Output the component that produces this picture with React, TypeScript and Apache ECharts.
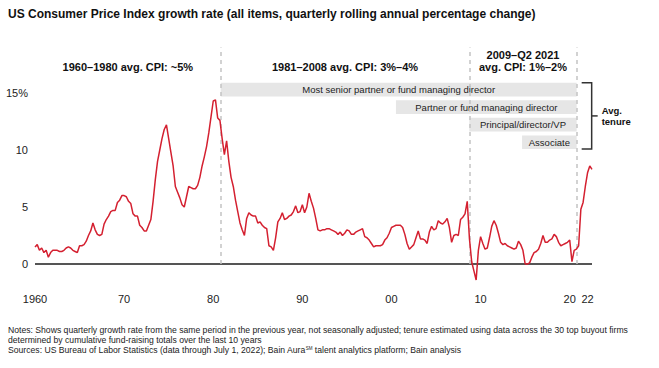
import React, { useEffect, useRef } from 'react';
import * as echarts from 'echarts';

const FONT = "'Liberation Sans', Arial, Helvetica, sans-serif";

const titleText =
  'US Consumer Price Index growth rate (all items, quarterly rolling annual percentage change)';

// Quarterly CPI growth, starting 1960 Q1
const startYear = 1960;
const cpi: number[] = [
  1.5, 1.7, 1.2, 1.4, // 1960
  1.0, 1.2, 0.6, 1.0,
  1.2, 1.2, 1.2, 1.1,
  1.1, 1.2, 1.4, 1.5,
  1.4, 1.2, 1.1, 1.0,
  1.6, 1.6, 1.7, 2.0, // 1965
  2.5, 2.9, 3.6, 3.0,
  2.6, 2.5, 2.6, 3.5,
  3.9, 4.2, 4.6, 4.7,
  4.7, 5.4, 5.6, 6.0,
  6.0, 5.9, 5.5, 5.3, // 1970
  4.4, 4.2, 4.2, 3.4,
  3.2, 2.9, 2.9, 3.4,
  3.9, 5.5, 7.4, 9.0,
  10.0, 11.0, 11.8, 12.2,
  11.0, 9.8, 8.6, 6.8, // 1975
  6.3, 5.8, 5.2, 5.0,
  5.9, 6.8, 6.7, 6.6,
  6.6, 6.9, 7.6, 8.6,
  9.4, 10.3, 11.5, 12.9,
  14.3, 14.4, 12.8, 12.6, // 1980
  11.0, 9.6, 10.8, 9.0,
  7.6, 6.8, 5.6, 4.6,
  3.6, 3.0, 2.5, 4.0,
  4.5, 4.3, 4.2, 4.2,
  3.6, 3.7, 3.4, 3.2, // 1985
  3.1, 1.6, 1.5, 1.2,
  2.3, 3.7, 4.0, 4.5,
  3.9, 4.0, 4.2, 4.3,
  4.6, 5.1, 4.5, 4.6,
  5.2, 4.5, 5.0, 6.2, // 1990
  5.5, 4.9, 4.0, 3.0,
  2.9, 3.0, 3.0, 3.1,
  3.1, 3.0, 2.9, 2.8,
  2.6, 2.8, 2.5, 2.7,
  3.0, 2.9, 2.6, 2.6, // 1995
  2.8, 2.9, 3.0, 3.1,
  2.4, 2.3, 2.1, 1.8,
  1.5, 1.6, 1.6, 1.6,
  1.7, 2.1, 2.3, 2.7,
  3.2, 3.3, 3.4, 3.4, // 2000
  3.4, 3.2, 2.6, 1.8,
  1.3, 1.5, 1.7, 2.3,
  2.9, 2.2, 2.2, 2.1,
  1.8, 2.8, 3.3, 3.0,
  3.1, 3.8, 3.6, 3.5, // 2005
  3.7, 4.0, 3.2, 1.9,
  2.5, 2.6, 2.5, 3.9,
  4.1, 4.4, 5.5, 2.2,
  0.2, -0.6, -1.4, 1.2,
  2.4, 1.8, 1.3, 1.4, // 2010
  2.3, 3.3, 3.8, 3.4,
  2.7, 1.9, 1.7, 1.8,
  1.6, 1.5, 1.4, 1.3,
  1.4, 2.0, 1.7, 1.2,
  0.0, 0.0, 0.1, 0.6, // 2015
  1.0, 1.1, 1.3, 1.8,
  2.5, 1.9, 1.9, 2.1,
  2.2, 2.6, 2.4, 1.9,
  1.6, 1.7, 1.8, 1.9,
  2.1, 0.2, 1.2, 1.3, // 2020
  1.6, 4.8, 5.4, 6.8,
  8.0, 8.6, 8.3, // 2022 H1
];

const xTickYears = [1960, 1970, 1980, 1990, 2000, 2010, 2020, 2022];
const xTickLabels = ['1960', '70', '80', '90', '00', '10', '20', '22'];
const yTickValues = [0, 5, 10, 15];
const yTickLabels = ['0', '5', '10', '15%'];

const eraBounds = [1960, 1980.84, 2008.73, 2020.78];
const eraLabels: string[][] = [
  ['1960–1980 avg. CPI: ~5%'],
  ['1981–2008 avg. CPI: 3%–4%'],
  ['2009–Q2 2021', 'avg. CPI: 1%–2%'],
];

const tenureRoles = [
  'Most senior partner or fund managing director',
  'Partner or fund managing director',
  'Principal/director/VP',
  'Associate',
];
const tenureStartYears = [1980.84, 2000.5, 2008.73, 2014.65];
const tenureEndYear = 2020.78;
const tenureLabel = ['Avg.', 'tenure'];

const notesLines = [
  'Notes: Shows quarterly growth rate from the same period in the previous year, not seasonally adjusted; tenure estimated using data across the 30 top buyout firms',
  'determined by cumulative fund-raising totals over the last 10 years',
  'Sources: US Bureau of Labor Statistics (data through July 1, 2022); Bain Aura{sup|SM} talent analytics platform; Bain analysis',
];

const X_MIN = 1960;
const X_MAX = 2022.5;
const Y_MIN = -2;
const Y_MAX = 19;
const ROW_TOP = 15.9;
const ROW_STEP = 1.54;
const ROW_H = 1.2;

export default function App() {
  const ref = useRef<HTMLDivElement>(null);

  useEffect(() => {
    if (!ref.current) return;
    const chart = echarts.init(ref.current, null, { renderer: 'svg' });

    const lineData = cpi.map((v, i) => [startYear + i / 4, v]);

    const markLineData: any[] = [
      {
        yAxis: 0,
        lineStyle: { color: '#555555', width: 2, type: 'solid' },
      },
    ];
    eraBounds.slice(1).forEach((b) => {
      markLineData.push([
        { coord: [b, 0], lineStyle: { color: '#c4c4c4', width: 1.5, type: [4, 4] } },
        { coord: [b, Y_MAX] },
      ]);
    });

    const markAreaData = tenureRoles.map((role, r) => {
      const top = ROW_TOP - r * ROW_STEP;
      return [
        { name: role, xAxis: tenureStartYears[r], yAxis: top },
        { xAxis: tenureEndYear, yAxis: top - ROW_H },
      ];
    });

    chart.setOption({
      animation: false,
      backgroundColor: '#ffffff',
      textStyle: { fontFamily: FONT },
      grid: { left: 35, right: 67, top: 47.4, bottom: 81.2, containLabel: false },
      xAxis: {
        type: 'value',
        min: X_MIN,
        max: X_MAX,
        axisLine: { show: false },
        axisTick: { show: false },
        splitLine: { show: false },
        axisLabel: {
          customValues: xTickYears,
          formatter: (v: number) => {
            const idx = xTickYears.indexOf(Math.round(v));
            return idx >= 0 ? xTickLabels[idx] : '';
          },
          color: '#222222',
          fontSize: 11,
          fontFamily: FONT,
          margin: 7,
        },
      },
      yAxis: {
        type: 'value',
        min: Y_MIN,
        max: Y_MAX,
        axisLine: { show: false },
        axisTick: { show: false },
        splitLine: { show: false },
        axisLabel: {
          customValues: yTickValues,
          formatter: (v: number) => {
            const idx = yTickValues.indexOf(Math.round(v));
            return idx >= 0 ? yTickLabels[idx] : '';
          },
          color: '#222222',
          fontSize: 11,
          fontFamily: FONT,
          margin: 7,
        },
      },
      series: [
        {
          type: 'line',
          data: lineData,
          showSymbol: false,
          symbol: 'none',
          lineStyle: { color: '#d42030', width: 1.5 },
          z: 3,
          markLine: {
            silent: true,
            symbol: ['none', 'none'],
            label: { show: false },
            data: markLineData,
            z: 2,
          },
          markArea: {
            silent: true,
            itemStyle: { color: '#e6e6e6' },
            label: {
              show: true,
              position: 'inside',
              color: '#222222',
              fontSize: 9.5,
              fontFamily: FONT,
              formatter: '{b}',
            },
            data: markAreaData,
          },
        },
      ],
    });

    const px = (x: number, y: number) =>
      chart.convertToPixel({ gridIndex: 0 }, [x, y]) as number[];

    const graphics: any[] = [];
    graphics.push({
      type: 'text',
      x: 8,
      y: 14,
      style: {
        text: titleText,
        fill: '#111111',
        font: `bold 12px ${FONT}`,
        align: 'left',
        verticalAlign: 'middle',
      },
    });

    eraLabels.forEach((lines, i) => {
      const cx = (px(eraBounds[i], 0)[0] + px(eraBounds[i + 1], 0)[0]) / 2;
      lines.forEach((t, j) => {
        graphics.push({
          type: 'text',
          x: cx,
          y: 67 - (lines.length - 1 - j) * 12.5,
          style: {
            text: t,
            fill: '#111111',
            font: `bold 11px ${FONT}`,
            align: 'center',
            verticalAlign: 'middle',
          },
        });
      });
    });

    const barRight = px(tenureEndYear, 0)[0];
    const yTop = px(X_MIN, ROW_TOP)[1];
    const yBot = px(X_MIN, ROW_TOP - (tenureRoles.length - 1) * ROW_STEP - ROW_H)[1];
    const xr = barRight + 15;
    graphics.push({
      type: 'polyline',
      shape: {
        points: [
          [barRight + 5, yTop],
          [xr, yTop],
          [xr, yBot],
          [barRight + 5, yBot],
        ],
      },
      style: { stroke: '#333333', lineWidth: 1.5, fill: null },
    });
    const ym = (yTop + yBot) / 2;
    graphics.push({
      type: 'line',
      shape: { x1: xr, y1: ym, x2: xr + 6, y2: ym },
      style: { stroke: '#333333', lineWidth: 1.5 },
    });
    tenureLabel.forEach((t, j) => {
      graphics.push({
        type: 'text',
        x: xr + 10,
        y: ym - 5.5 + j * 11.5,
        style: {
          text: t,
          fill: '#111111',
          font: `bold 9.5px ${FONT}`,
          align: 'left',
          verticalAlign: 'middle',
        },
      });
    });

    notesLines.forEach((t, j) => {
      graphics.push({
        type: 'text',
        x: 8,
        y: 330 + j * 10,
        style: {
          text: t,
          fill: '#222222',
          fontSize: 8.65,
          fontFamily: FONT,
          align: 'left',
          verticalAlign: 'middle',
          rich: {
            sup: { fontSize: 4.5, fontFamily: FONT, fill: '#222222', padding: [0, 0, 4, 0] },
          },
        },
      });
    });

    chart.setOption({ graphic: graphics });

    return () => {
      chart.dispose();
    };
  }, []);

  return (
    <div
      style={{
        position: 'fixed',
        left: 0,
        top: 0,
        width: 659,
        height: 368,
        background: '#ffffff',
      }}
    >
      <div ref={ref} style={{ width: 659, height: 368 }} />
    </div>
  );
}
